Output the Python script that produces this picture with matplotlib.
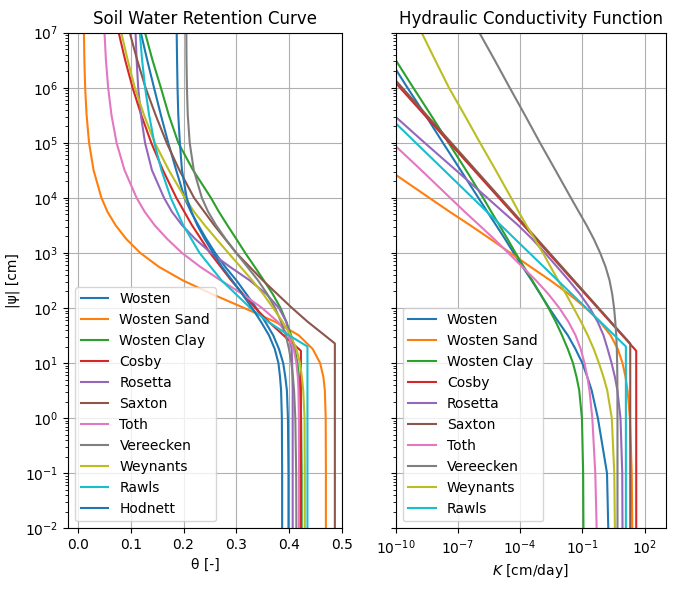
import matplotlib.pyplot as plt
import numpy as np

psi = [1e-2, 1e-1, 1e0, 3.2, 5.6, 10, 18, 32, 56, 100, 180, 320, 560, 1e3,
       1.8e3, 3.2e3, 5.6e3, 1e4, 3.2e4, 1e5, 3.2e5, 1e6, 3.2e6, 1e7]

# water content [-] (smooth models)
theta_wosten = [0.399, 0.399, 0.398, 0.396, 0.393, 0.389, 0.381, 0.370, 0.355, 0.338, 0.319, 0.300,
                0.279, 0.260, 0.243, 0.228, 0.214, 0.202, 0.186, 0.171, 0.157, 0.144, 0.131, 0.119]
theta_wosten_sand = [0.470, 0.470, 0.4696, 0.468, 0.4652, 0.459, 0.445, 0.4185, 0.374, 0.315, 0.2537, 0.198,
                     0.1532, 0.118, 0.0912, 0.071, 0.0557, 0.0443, 0.0293, 0.0208, 0.0161, 0.0134, 0.0119, 0.0111]
theta_wosten_clay = [0.424, 0.424, 0.423, 0.421, 0.419, 0.416, 0.411, 0.404, 0.395, 0.384, 0.369, 0.352,
                     0.335, 0.317, 0.300, 0.283, 0.267, 0.252, 0.218, 0.190, 0.172, 0.157, 0.141, 0.127]
theta_rosetta = [0.407, 0.407, 0.407, 0.407, 0.4065, 0.406, 0.405, 0.401, 0.395, 0.381, 0.357, 0.325,
                 0.288, 0.252, 0.222, 0.197, 0.178, 0.163, 0.140, 0.127, 0.119, 0.114, 0.111, 0.109]
theta_toth = [0.419, 0.419, 0.4188, 0.418, 0.4168, 0.414, 0.409, 0.398, 0.379, 0.349, 0.3116, 0.270,
              0.2317, 0.197, 0.1689, 0.145, 0.1263, 0.111, 0.088, 0.073, 0.0633, 0.057, 0.0528, 0.0501]
theta_vereecken = [0.414, 0.4136, 0.412, 0.4096, 0.4075, 0.4046, 0.400, 0.3939, 0.385, 0.3737, 0.3588, 0.341,
                   0.3209, 0.300, 0.2797, 0.2616, 0.2466, 0.2348, 0.2194, 0.2117, 0.208, 0.2064, 0.2056, 0.2053]
theta_weynants = [0.430, 0.430, 0.4295, 0.427, 0.4245, 0.421, 0.414, 0.403, 0.388, 0.370, 0.351, 0.330,
                  0.308, 0.285, 0.262, 0.240, 0.220, 0.2025, 0.172, 0.1455, 0.125, 0.1076, 0.094, 0.082]
theta_hodnett = [0.387, 0.387, 0.3865, 0.385, 0.383, 0.380, 0.373, 0.362, 0.347, 0.330, 0.311, 0.292,
                 0.273, 0.256, 0.240, 0.226, 0.215, 0.206, 0.197, 0.193, 0.190, 0.1886, 0.1877, 0.187]

# Brooks-Corey type curves: flat up to air entry, then tail
bc_psi = [32, 56, 100, 320, 1e3, 3.2e3, 1e4, 3.2e4, 1e5, 3.2e5, 1e6, 3.2e6, 1e7]
cosby_hb, cosby_ts = 16.7, 0.4226
theta_cosby = [0.3895, 0.3617, 0.3361, 0.2901, 0.2503, 0.2159, 0.1864, 0.1608,
               0.1388, 0.1198, 0.1034, 0.0892, 0.0770]
saxton_hb, saxton_ts = 22.7, 0.487
theta_saxton = [0.4676, 0.4357, 0.4058, 0.350, 0.300, 0.258, 0.220, 0.192,
                0.168, 0.147, 0.128, 0.112, 0.098]
rawls_hb, rawls_ts = 20.0, 0.435
theta_rawls = [0.3998, 0.3608, 0.3267, 0.2718, 0.2304, 0.1993, 0.1758, 0.158,
               0.1447, 0.1347, 0.1271, 0.1214, 0.1171]

# log10 of hydraulic conductivity [cm/day] on the psi levels
logk_wosten = [0.25, 0.19, -0.25, -0.55, -0.76, -1.0, -1.33, -1.70, -2.15, -2.6, -3.03, -3.45,
               -3.88, -4.31, -4.73, -5.16, -5.58, -6.01, -6.87, -7.72, -8.57, -9.43, -10.28, -11.14]
logk_wosten_sand = [1.408, 1.382, 1.294, 1.181, 1.083, 0.936, 0.710, 0.363, -0.148, -0.832, -1.652, -2.555,
                    -3.501, -4.466, -5.439, -6.415, -7.395, -8.375, -10.33, -12.3, -14.2, -16.2, -18.1, -20.1]
logk_wosten_clay = [-0.946, -0.96, -1.02, -1.15, -1.28, -1.45, -1.7, -1.98, -2.28, -2.63, -3.02, -3.42,
                    -3.82, -4.22, -4.61, -5.0, -5.39, -5.78, -6.61, -7.45, -8.3, -9.15, -10.0, -10.85]
logk_rosetta = [0.936, 0.925, 0.84, 0.69, 0.57, 0.41, 0.22, 0.02, -0.26, -0.64, -1.12, -1.66,
                -2.22, -2.8, -3.42, -4.1, -4.83, -5.58, -7.1, -8.6, -10.1, -11.6, -13.1, -14.6]
logk_toth = [-0.31, -0.375, -0.518, -0.657, -0.759, -0.895, -1.079, -1.329, -1.667, -2.106, -2.641, -3.245,
             -3.893, -4.57, -5.257, -5.97, -6.67, -7.37, -8.77, -10.17, -11.57, -12.97, -14.37, -15.77]
logk_vereecken = [0.695, 0.695, 0.694, 0.691, 0.687, 0.678, 0.662, 0.635, 0.59, 0.53, 0.44, 0.31,
                  0.12, -0.14, -0.45, -0.8, -1.17, -1.55, -2.3, -3.04, -3.77, -4.5, -5.23, -5.965]
logk_weynants = [0.57, 0.54, 0.42, 0.2, 0.02, -0.2, -0.45, -0.74, -1.06, -1.42, -1.79, -2.17,
                 -2.53, -2.9, -3.3, -3.7, -4.07, -4.43, -5.18, -5.93, -6.68, -7.43, -8.1, -8.745]
# Brooks-Corey conductivity: saturated value and value at 1e7 cm
logk_cosby = [1.598, -12.17]
logk_saxton = [1.31, -12.05]
logk_rawls = [1.10, -14.5]

names = ['Wosten', 'Wosten Sand', 'Wosten Clay', 'Cosby', 'Rosetta', 'Saxton',
         'Toth', 'Vereecken', 'Weynants', 'Rawls', 'Hodnett']

def bc_theta(hb, ts, tail):
    return [1e-2, hb] + bc_psi, [ts, ts] + tail

def bc_k(hb, lk):
    return [1e-2, hb, 1e7], 10 ** np.array([lk[0], lk[0], lk[1]])

swrc = [
    (psi, theta_wosten),
    (psi, theta_wosten_sand),
    (psi, theta_wosten_clay),
    bc_theta(cosby_hb, cosby_ts, theta_cosby),
    (psi, theta_rosetta),
    bc_theta(saxton_hb, saxton_ts, theta_saxton),
    (psi, theta_toth),
    (psi, theta_vereecken),
    (psi, theta_weynants),
    bc_theta(rawls_hb, rawls_ts, theta_rawls),
    (psi, theta_hodnett),
]
kfun = [
    (psi, 10 ** np.array(logk_wosten)),
    (psi, 10 ** np.array(logk_wosten_sand)),
    (psi, 10 ** np.array(logk_wosten_clay)),
    bc_k(cosby_hb, logk_cosby),
    (psi, 10 ** np.array(logk_rosetta)),
    bc_k(saxton_hb, logk_saxton),
    (psi, 10 ** np.array(logk_toth)),
    (psi, 10 ** np.array(logk_vereecken)),
    (psi, 10 ** np.array(logk_weynants)),
    bc_k(rawls_hb, logk_rawls),
]

fig = plt.figure(figsize=(6.74, 5.9), dpi=100)
ax1 = fig.add_axes([0.101, 0.1046, 0.406, 0.840])
ax2 = fig.add_axes([0.587, 0.1046, 0.401, 0.840], sharey=ax1)

for name, (h, th) in zip(names, swrc):
    ax1.plot(th, h, label=name)
ax1.set_yscale('log')
ax1.set_ylim(1e-2, 1e7)
ax1.set_xlim(-0.019, 0.5)
ax1.set_xlabel('θ [-]')
ax1.set_ylabel('|ψ| [cm]')
ax1.set_title('Soil Water Retention Curve')
ax1.grid(True)
ax1.legend(loc='lower left')

for name, (h, k) in zip(names, kfun):
    ax2.plot(k, h, label=name)
ax2.set_xscale('log')
ax2.set_xlim(1e-10, 1.07e3)
ax2.set_xlabel('$K$ [cm/day]')
ax2.set_title('Hydraulic Conductivity Function')
ax2.grid(True)
ax2.legend(loc='lower left')
plt.setp(ax2.get_yticklabels(), visible=False)

fig.savefig('out.png', dpi=100)
